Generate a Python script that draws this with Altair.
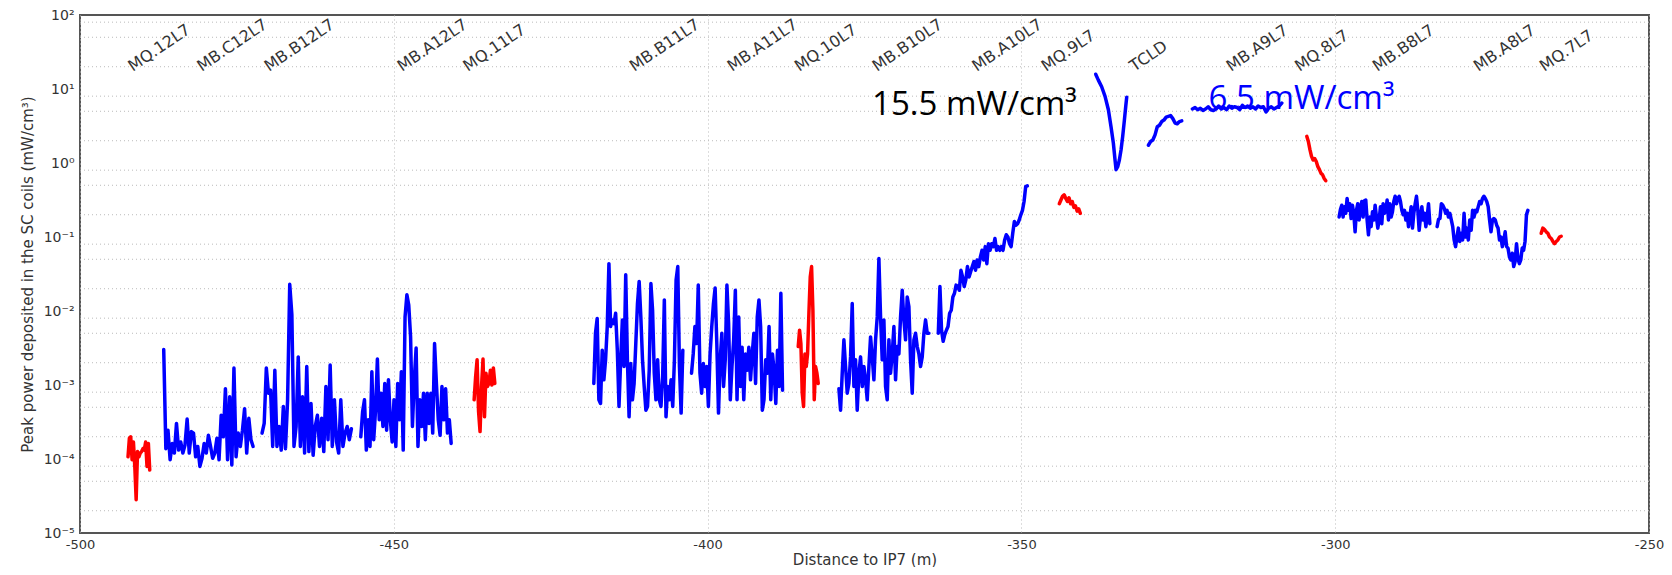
import altair as alt
import numpy as np
import pandas as pd

# ---------------- data (x in m, values as log10 of mW/cm3) ----------------
red1_x = (-492.35, -488.89)
red1_log = [-3.97, -3.72, -3.70, -4.01, -3.77, -4.10, -4.55, -3.90, -3.97, -3.92, -3.90, -3.86, -3.88, -3.77, -4.10, -3.79, -4.15]

blue2a_x = (-486.66, -472.42)
blue2a_log = [-2.52, -3.86, -3.61, -4.01, -3.79, -3.92, -3.52, -3.88, -3.77, -3.92, -3.81, -3.46, -3.92, -3.63, -3.65,
              -3.97, -3.83, -4.10, -3.99, -3.79, -3.92, -3.68, -3.83, -3.99, -3.92, -3.72, -4.01, -3.41, -3.70, -3.05,
              -4.01, -3.16, -4.08, -2.77, -3.97, -3.65, -3.83, -3.61, -3.32, -3.92, -3.45, -3.74, -3.83]

blue2b_x = (-470.99, -456.75)
blue2b_log = [-3.65, -3.52, -2.77, -3.11, -3.07, -3.83, -2.80, -3.83, -3.56, -3.88, -3.29, -3.86, -3.20, -1.64, -2.05,
              -3.83, -3.56, -2.62, -3.83, -3.16, -3.92, -2.75, -3.90, -3.25, -3.95, -3.56, -3.41, -3.83, -3.45, -3.90,
              -3.02, -3.74, -2.73, -3.83, -3.20, -3.77, -3.92, -3.20, -3.83, -3.65, -3.56, -3.74, -3.59]

blue2c_x = (-455.26, -440.86)
blue2c_log = [-3.70, -3.36, -3.20, -3.88, -3.47, -3.83, -2.82, -3.74, -3.34, -2.65, -3.47, -3.11, -3.56, -2.98, -3.61,
              -2.93, -3.47, -3.77, -3.20, -3.83, -2.98, -3.47, -2.82, -3.88, -2.08, -1.78, -1.92, -2.35, -3.56, -2.93,
              -2.50, -3.83, -3.20, -3.56, -3.11, -3.74, -3.11, -3.52, -3.11, -3.65, -2.44, -2.98, -3.47, -3.68, -3.02,
              -3.47, -3.05, -3.65, -3.47, -3.79]

red3_x = (-437.20, -433.90)
red3_log = [-3.20, -2.89, -2.66, -3.36, -3.63, -3.02, -2.65, -3.43, -2.84, -3.02, -2.98, -2.80, -3.00, -2.77, -2.98]

blue4a_x = (-418.13, -403.95)
blue4a_log = [-2.98, -2.30, -2.10, -3.20, -3.25, -2.53, -2.93, -2.66, -2.21, -1.36, -2.21, -2.12, -2.17, -2.03, -2.53,
              -3.29, -2.66, -2.12, -2.75, -1.51, -2.66, -3.43, -2.71, -3.20, -2.98, -2.44, -1.90, -1.60, -2.08, -2.66,
              -3.02, -3.34, -3.29, -2.80, -1.63, -1.99, -2.84, -3.20, -2.66, -3.20, -3.29, -2.89, -1.85, -3.43, -3.02,
              -3.20, -2.93, -3.29, -2.66, -1.58, -1.40, -2.75, -3.38, -2.53]

blue4b_x = (-402.56, -388.06)
blue4b_log = [-2.84, -2.58, -2.21, -2.44, -1.65, -2.84, -3.11, -2.71, -3.02, -2.75, -3.29, -2.58, -2.21, -1.90, -1.69,
              -2.44, -3.38, -2.66, -2.30, -3.02, -2.66, -1.65, -2.17, -3.20, -2.75, -2.39, -1.72, -3.20, -2.08, -3.02,
              -2.49, -3.20, -2.58, -2.80, -2.49, -2.93, -2.58, -2.30, -2.98, -2.08, -1.85, -2.21, -3.34, -3.20, -2.66,
              -2.84, -2.21, -3.20, -2.58, -2.80, -3.25, -2.53, -3.02, -1.76, -3.07]

red5_x = (-385.56, -382.37)
red5_log = [-2.48, -2.26, -2.44, -3.11, -3.29, -2.58, -2.75, -2.58, -2.03, -1.54, -1.40, -1.99, -3.20, -2.75, -2.84, -2.98]

blue6a_x = (-379.08, -364.74)
blue6a_log = [-3.05, -3.34, -2.84, -2.39, -2.75, -3.11, -2.98, -2.62, -1.90, -3.02, -2.66, -3.34, -2.84, -2.62, -3.02,
              -2.75, -2.93, -3.20, -2.75, -2.35, -2.62, -2.93, -2.39, -2.08, -1.29, -2.08, -2.66, -2.12, -3.02, -3.20,
              -2.39, -2.84, -2.58, -2.21, -2.93, -2.48, -2.58, -2.08, -1.72, -2.12, -2.39, -1.81, -1.94, -2.66, -3.11,
              -2.39, -2.30, -2.48, -2.58, -2.75, -2.62, -2.30, -2.12, -2.30, -2.30]

blue6b_x = (-363.24, -349.06)
blue6b_log = [-2.30, -1.67, -2.26, -2.41, -2.32, -2.26, -2.21, -2.03, -1.99, -1.81, -1.76, -1.65, -1.67, -1.72, -1.45,
              -1.54, -1.67, -1.58, -1.40, -1.54, -1.47, -1.40, -1.33, -1.45, -1.31, -1.40, -1.27, -1.18, -1.31, -1.13,
              -1.36, -1.09, -1.18, -1.09, -1.13, -1.02, -1.18, -1.13, -1.18, -1.13, -1.18, -1.04, -0.97, -1.00, -1.09,
              -1.13, -0.95, -0.79, -0.84, -0.82, -0.77, -0.70, -0.64, -0.52, -0.32, -0.31]

red7_x = (-343.96, -340.61)
red7_log = [-0.55, -0.50, -0.45, -0.43, -0.48, -0.52, -0.47, -0.55, -0.52, -0.60, -0.58, -0.65, -0.62, -0.68]

tcld_xs = [-338.16, -337.74, -337.21, -336.67, -336.14, -335.72, -335.35, -335.08, -334.92, -334.65, -334.39,
           -334.12, -333.86, -333.59, -333.38, -333.22]
tcld_log = [1.20, 1.12, 1.03, 0.90, 0.72, 0.49, 0.27, 0.04, -0.09, -0.05, 0.04, 0.18, 0.36, 0.58, 0.76, 0.89]

blue9_x = (-329.77, -324.45)
blue9_log = [0.24, 0.29, 0.31, 0.38, 0.49, 0.51, 0.56, 0.58, 0.62, 0.63, 0.64, 0.60, 0.54, 0.53, 0.56, 0.57]

blue10_x = (-322.75, -308.51)
blue10_log = [0.73, 0.75, 0.72, 0.74, 0.71, 0.73, 0.76, 0.72, 0.71, 0.73, 0.77, 0.73, 0.75, 0.72, 0.77, 0.74, 0.76,
              0.75, 0.72, 0.78, 0.75, 0.77, 0.74, 0.76, 0.73, 0.77, 0.75, 0.76, 0.69, 0.74, 0.76, 0.73, 0.75, 0.77, 0.81]

red11_x = (-304.53, -301.50)
red11_log = [0.36, 0.29, 0.18, 0.09, 0.04, 0.06, 0.02, -0.05, -0.09, -0.14, -0.16, -0.21, -0.24]

blue12a_x = (-299.38, -284.92)
blue12a_log = [-0.73, -0.63, -0.57, -0.73, -0.59, -0.68, -0.48, -0.64, -0.55, -0.75, -0.57, -0.68, -0.93, -0.64, -0.55,
               -0.77, -0.61, -0.52, -0.73, -0.51, -0.50, -0.77, -0.97, -0.73, -0.86, -0.66, -0.77, -0.57, -0.73, -0.88,
               -0.77, -0.59, -0.82, -0.55, -0.68, -0.64, -0.50, -0.77, -0.55, -0.73, -0.66, -0.52, -0.45, -0.55, -0.48,
               -0.45, -0.52, -0.64, -0.70, -0.64, -0.77, -0.68, -0.86, -0.73, -0.59, -0.88, -0.68, -0.55, -0.45, -0.64,
               -0.91, -0.73, -0.59, -0.77, -0.68, -0.86, -0.73, -0.55, -0.82]

blue12b_x = (-283.76, -269.30)
blue12b_log = [-0.86, -0.76, -0.75, -0.55, -0.57, -0.61, -0.68, -0.64, -0.73, -0.68, -0.77, -0.86, -1.04, -1.13, -1.00,
               -0.88, -1.06, -0.95, -1.04, -0.68, -1.00, -0.88, -1.04, -0.77, -0.91, -0.64, -0.73, -0.64, -0.66, -0.59,
               -0.52, -0.55, -0.48, -0.45, -0.48, -0.52, -0.59, -0.77, -0.93, -0.77, -0.75, -0.77, -0.84, -0.88, -1.04,
               -1.00, -1.13, -1.04, -0.93, -1.13, -1.15, -1.27, -1.31, -1.22, -1.40, -1.33, -1.09, -1.29, -1.36, -1.31,
               -1.15, -1.18, -1.06, -0.70, -0.64]

red13_x = (-267.18, -263.99)
red13_log = [-0.95, -0.88, -0.90, -0.93, -0.95, -1.00, -1.02, -1.06, -1.09, -1.06, -1.04, -1.00, -0.99]

# element names along the beam line (x where label starts)
elem_names = ["MQ.12L7", "MB.C12L7", "MB.B12L7", "MB.A12L7", "MQ.11L7", "MB.B11L7", "MB.A11L7", "MQ.10L7",
              "MB.B10L7", "MB.A10L7", "MQ.9L7", "TCLD", "MB.A9L7", "MQ.8L7", "MB.B8L7", "MB.A8L7", "MQ.7L7"]
elem_x = [-491.6, -480.6, -469.9, -448.7, -438.2, -411.7, -396.1, -385.4, -373.0, -357.1, -346.1, -332.0,
          -316.6, -305.7, -293.3, -277.2, -266.7]
elem_y = 17.0

# annotations
ann_text = ["15.5 mW/cm³", "6.5 mW/cm³"]
ann_x = [-373.8, -320.2]
ann_y = [4.46, 5.37]
ann_color = ["#000000", "#0000ff"]

# axes
x_ticks = [-500, -450, -400, -350, -300, -250]
y_ticks = [1e-5, 1e-4, 1e-3, 1e-2, 1e-1, 1e0, 1e1, 1e2]
y_grid = [m * 10.0 ** e for e in range(-5, 2) for m in (2, 5, 8)]

RED = "#ff0000"
BLUE = "#0000ff"

segments = [
    ("r1", RED, red1_x, red1_log), ("b2a", BLUE, blue2a_x, blue2a_log), ("b2b", BLUE, blue2b_x, blue2b_log),
    ("b2c", BLUE, blue2c_x, blue2c_log), ("r3", RED, red3_x, red3_log), ("b4a", BLUE, blue4a_x, blue4a_log),
    ("b4b", BLUE, blue4b_x, blue4b_log), ("r5", RED, red5_x, red5_log), ("b6a", BLUE, blue6a_x, blue6a_log),
    ("b6b", BLUE, blue6b_x, blue6b_log), ("r7", RED, red7_x, red7_log), ("tcld", BLUE, tcld_xs, tcld_log),
    ("b9", BLUE, blue9_x, blue9_log), ("b10", BLUE, blue10_x, blue10_log), ("r11", RED, red11_x, red11_log),
    ("b12a", BLUE, blue12a_x, blue12a_log), ("b12b", BLUE, blue12b_x, blue12b_log), ("r13", RED, red13_x, red13_log),
]

rows = []
for sid, col, xr, logs in segments:
    if len(xr) == len(logs):
        xs = list(xr)
    else:
        xs = np.linspace(xr[0], xr[1], len(logs))
    for i, (xv, lv) in enumerate(zip(xs, logs)):
        rows.append({"seg": sid, "color": col, "x": float(xv), "y": 10.0 ** lv, "o": i})
df = pd.DataFrame(rows)

ldf = pd.DataFrame({"x": elem_x, "y": [elem_y] * len(elem_x), "name": elem_names})
adf = pd.DataFrame({"x": ann_x, "y": ann_y, "text": ann_text, "color": ann_color})
gdf = pd.DataFrame({"y": y_grid})

AX_FONT = "DejaVu Sans"
TXT = "#333333"

e = "round(log(datum.value)/LN10)"
sup_expr = ("'10' + (" + e + " == 2 ? '²' : " + e + " == 1 ? '¹' : " + e + " == 0 ? '⁰' : " + e +
            " == -1 ? '⁻¹' : " + e + " == -2 ? '⁻²' : " + e + " == -3 ? '⁻³' : " + e + " == -4 ? '⁻⁴' : '⁻⁵')")

xscale = alt.Scale(domain=[-500, -250], nice=False, zero=False)
yscale = alt.Scale(type="log", domain=[1e-5, 100], nice=False)

xaxis = alt.Axis(values=x_ticks, title="Distance to IP7 (m)", grid=True, gridDash=[1, 3], gridColor="#bbbbbb",
                 ticks=False, domain=False, labelExpr="toString(datum.value)", labelFont=AX_FONT,
                 labelFontSize=13, labelColor=TXT, labelPadding=5, titleFont=AX_FONT, titleFontSize=15,
                 titleFontWeight="normal", titleColor=TXT, titlePadding=1, labelFlush=False)
yaxis = alt.Axis(values=y_ticks, title="Peak power deposited in the SC coils (mW/cm³)", grid=False, ticks=False,
                 domain=False, labelExpr=sup_expr, labelFont=AX_FONT, labelFontSize=14, labelColor=TXT,
                 labelPadding=6, labelFlush=False, titleFont=AX_FONT, titleFontSize=15, titleFontWeight="normal",
                 titleColor=TXT, titleX=-53, titleY=259, titleAngle=270, titleAlign="center",
                 titleBaseline="middle")

grid = alt.Chart(gdf).mark_rule(strokeDash=[1, 3], color="#bbbbbb", strokeWidth=1).encode(
    y=alt.Y("y:Q", scale=yscale, axis=yaxis)
)

labels = alt.Chart(ldf).mark_text(align="left", baseline="alphabetic", angle=326, font=AX_FONT, fontSize=16,
                                  color=TXT).encode(
    x=alt.X("x:Q", scale=xscale, axis=xaxis), y=alt.Y("y:Q", scale=yscale, axis=yaxis), text="name:N"
)

ann = alt.Chart(adf).mark_text(align="left", baseline="alphabetic", font="Open Sans", fontSize=33).encode(
    x=alt.X("x:Q", scale=xscale, axis=xaxis), y=alt.Y("y:Q", scale=yscale, axis=yaxis), text="text:N",
    color=alt.Color("color:N", scale=None)
)

lines = alt.Chart(df).mark_line(strokeWidth=3.5, strokeJoin="round", strokeCap="round").encode(
    x=alt.X("x:Q", scale=xscale, axis=xaxis),
    y=alt.Y("y:Q", scale=yscale, axis=yaxis),
    detail="seg:N",
    order="o:Q",
    color=alt.Color("color:N", scale=None),
)

chart = alt.layer(grid, labels, ann, lines).properties(
    width=1569, height=518,
    padding={"left": 72, "top": 7, "right": 15, "bottom": 34},
    autosize=alt.AutoSizeParams(type="none"),
    background="white",
).configure_view(stroke="#555555", strokeWidth=2)

chart.save("out.html", embed_options={"renderer": "svg", "actions": False})
